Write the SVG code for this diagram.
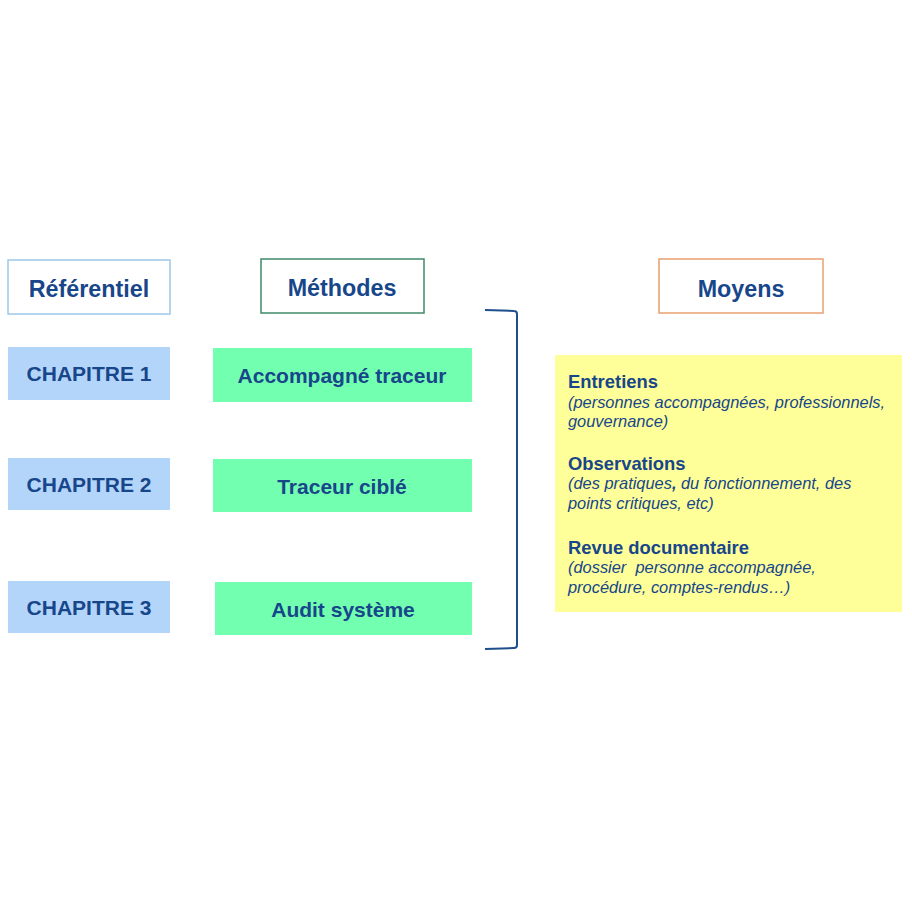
<svg xmlns="http://www.w3.org/2000/svg" width="912" height="912" viewBox="0 0 912 912">
<style>
.t{font-family:"Liberation Sans",Arial,sans-serif;font-weight:bold;fill:#17468a;text-anchor:middle}
.h{font-size:23.3px}
.c{font-size:21px}
.yb{font-family:"Liberation Sans",Arial,sans-serif;font-weight:bold;fill:#17468a;font-size:18.4px}
.yi{font-family:"Liberation Sans",Arial,sans-serif;font-style:italic;fill:#17468a;font-size:16.4px}
.chap{fill:#b4d5fa}
.meth{fill:#73ffb0}
</style>
<rect width="912" height="912" fill="#ffffff"/>
<g id="hdr-referentiel">
<rect x="8" y="260" width="162" height="54" fill="#fff" stroke="#9dc8ea" stroke-width="1.5"/>
<text class="t h" x="89" y="297">Référentiel</text>
</g>
<g id="hdr-methodes">
<rect x="261" y="259" width="163" height="54" fill="#fff" stroke="#3f8a68" stroke-width="1.5"/>
<text class="t h" x="342" y="296">Méthodes</text>
</g>
<g id="hdr-moyens">
<rect x="659" y="259" width="164" height="54" fill="#fff" stroke="#e8a070" stroke-width="1.5"/>
<text class="t h" x="741" y="297">Moyens</text>
</g>
<g id="chap1"><rect class="chap" x="8" y="347" width="162" height="53"/><text class="t c" x="89" y="381">CHAPITRE 1</text></g>
<g id="chap2"><rect class="chap" x="8" y="458" width="162" height="52"/><text class="t c" x="89" y="492">CHAPITRE 2</text></g>
<g id="chap3"><rect class="chap" x="8" y="581" width="162" height="52"/><text class="t c" x="89" y="615">CHAPITRE 3</text></g>
<g id="meth1"><rect class="meth" x="213" y="348" width="259" height="54"/><text class="t c" x="342" y="383">Accompagné traceur</text></g>
<g id="meth2"><rect class="meth" x="213" y="459" width="259" height="53"/><text class="t c" x="342" y="494">Traceur ciblé</text></g>
<g id="meth3"><rect class="meth" x="215" y="582" width="257" height="53"/><text class="t c" x="343" y="617">Audit système</text></g>
<g id="connectors">
<path d="M485 310 L514 311 Q517 311 517 314 L517 645 Q517 648 514 648 L485 649" fill="none" stroke="#1f4e8c" stroke-width="2"/>
</g>
<g id="moyens-box">
<rect x="555" y="355" width="347" height="257" fill="#ffff99"/>
<text class="yb" x="568" y="388">Entretiens</text>
<text class="yi" x="568" y="408">(personnes accompagnées, professionnels,</text>
<text class="yi" x="568" y="427">gouvernance)</text>
<text class="yb" x="568" y="470">Observations</text>
<text class="yi" x="568" y="489">(des pratiques<tspan font-weight="bold">,</tspan> du fonctionnement, des</text>
<text class="yi" x="568" y="509">points critiques, etc)</text>
<text class="yb" x="568" y="554">Revue documentaire</text>
<text class="yi" x="568" y="573" xml:space="preserve">(dossier  personne accompagnée,</text>
<text class="yi" x="568" y="593">procédure, comptes-rendus…)</text>
</g>
</svg>
